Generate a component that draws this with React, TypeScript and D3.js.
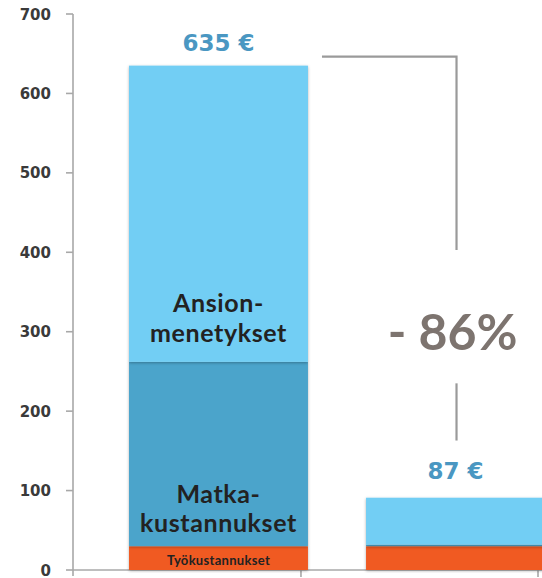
import React from "react";
import * as d3 from "d3";

const categories = ["Ennen", "Jälkeen"];
const tyokustannukset = [30, 30];
const matkakustannukset = [232, 2];
const ansionmenetykset = [373, 59];
const totals = [635, 87];
const yTicks = [0, 100, 200, 300, 400, 500, 600, 700];
const seriesKeys = ["tyo", "matka", "ansio"];
const seriesColors: Record<string, string> = {
  tyo: "#f05a22",
  matka: "#4ca4cb",
  ansio: "#72cef4",
};

const W = 542;
const H = 578;

export default function App() {
  const y = d3.scaleLinear().domain([0, 700]).range([570, 14]);
  const x = d3
    .scaleBand<string>()
    .domain(categories)
    .range([129, 545])
    .paddingInner(0.245)
    .paddingOuter(0);
  const bw = x.bandwidth();

  const rows = categories.map((c, i) => ({
    cat: c,
    tyo: tyokustannukset[i],
    matka: matkakustannukset[i],
    ansio: ansionmenetykset[i],
  }));
  const stacked = d3.stack<any>().keys(seriesKeys)(rows);

  const x0 = x(categories[0])!;
  const x1 = x(categories[1])!;
  const c0 = x0 + bw / 2;
  const c1 = x1 + bw / 2;
  const pct = Math.round(((totals[1] - totals[0]) / totals[0]) * 100);
  const bracketY = y(totals[0]) - 9;
  const bracketX = c1 + 1;

  const labelFont = "Lato, 'DejaVu Sans', sans-serif";

  return (
    <svg
      width={W}
      height={H}
      style={{ position: "absolute", left: 0, top: 0, background: "#fff" }}
    >
      <defs>
        <filter id="sh" x="-10%" y="-10%" width="120%" height="120%">
          <feDropShadow dx="0" dy="1" stdDeviation="1.5" floodColor="#000" floodOpacity="0.3" />
        </filter>
      </defs>

      {/* y axis */}
      <line x1={73} x2={73} y1={y(700)} y2={y(0) + 6} stroke="#a8a8a8" strokeWidth={1.6} />
      {yTicks.map((t) => (
        <g key={t}>
          <line x1={66} x2={73} y1={y(t)} y2={y(t)} stroke="#a8a8a8" strokeWidth={1.6} />
          <text
            x={51}
            y={y(t) + 1}
            textAnchor="end"
            dominantBaseline="middle"
            fontFamily="'DejaVu Sans', sans-serif"
            fontWeight="bold"
            fontSize={15}
            fill="#3a3a3a"
          >
            {t}
          </text>
        </g>
      ))}
      {/* x axis */}
      <line x1={73} x2={W} y1={y(0)} y2={y(0)} stroke="#a8a8a8" strokeWidth={1.6} />
      {categories.map((c) => (
        <line
          key={c}
          x1={x(c)! + bw - 7}
          x2={x(c)! + bw - 7}
          y1={y(0)}
          y2={y(0) + 7}
          stroke="#a8a8a8"
          strokeWidth={1.6}
        />
      ))}

      {/* bars */}
      {stacked.map((s) => (
        <g key={s.key} filter="url(#sh)">
          {s.map((d, i) => (
            <rect
              key={i}
              x={x(categories[i])}
              width={bw}
              y={y(d[1])}
              height={y(d[0]) - y(d[1])}
              fill={seriesColors[s.key]}
            />
          ))}
        </g>
      ))}

      {/* value labels */}
      <text x={c0} y={51} textAnchor="middle" fontFamily="'DejaVu Sans', sans-serif" fontWeight="bold" fontSize={23} fill="#4a97c2">
        {totals[0]} €
      </text>
      <text x={c1} y={479} textAnchor="middle" fontFamily="'DejaVu Sans', sans-serif" fontWeight="bold" fontSize={23} fill="#4a97c2">
        {totals[1]} €
      </text>

      {/* segment labels */}
      <text x={c0} textAnchor="middle" fontFamily={labelFont} fontWeight="bold" fontSize={25} letterSpacing={0.6} fill="#222">
        <tspan x={c0} y={312}>Ansion-</tspan>
        <tspan x={c0} y={342}>menetykset</tspan>
      </text>
      <text x={c0} textAnchor="middle" fontFamily={labelFont} fontWeight="bold" fontSize={25} letterSpacing={0.6} fill="#222">
        <tspan x={c0} y={503}>Matka-</tspan>
        <tspan x={c0} y={532}>kustannukset</tspan>
      </text>
      <text x={c0} y={565} textAnchor="middle" fontFamily={labelFont} fontWeight="bold" fontSize={13} letterSpacing={0.3} fill="#222">
        Työkustannukset
      </text>

      {/* bracket */}
      <path
        d={`M${x0 + bw + 14},${bracketY} H${bracketX} V${y(403)}`}
        fill="none"
        stroke="#9a9a9a"
        strokeWidth={2.2}
      />
      <line x1={bracketX} x2={bracketX} y1={y(235)} y2={y(163)} stroke="#9a9a9a" strokeWidth={2.2} />
      <text
        x={bracketX - 4}
        y={350}
        textAnchor="middle"
        fontFamily={labelFont}
        fontWeight="bold"
        fontSize={50}
        fill="#7d746f"
      >
        {`- ${Math.abs(pct)}%`}
      </text>
    </svg>
  );
}
